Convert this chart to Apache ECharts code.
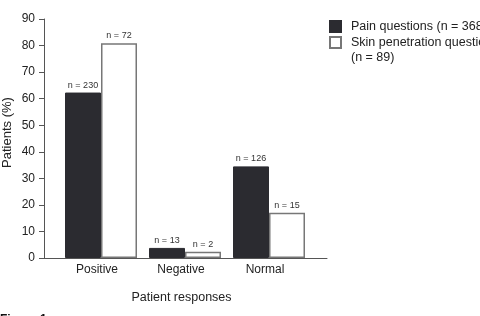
<!DOCTYPE html>
<html><head><meta charset="utf-8">
<script src="https://cdn.jsdelivr.net/npm/echarts@6/dist/echarts.min.js"></script>
<style>html,body{margin:0;padding:0;background:#fff}#c{width:480px;height:316px}</style>
</head><body><div id="c"></div>
<script>
var categories = ['Positive', 'Negative', 'Normal'];
var painValues = [62.3, 3.8, 34.5];
var skinValues = [80.9, 2.4, 17.0];
var painLabels = ['n = 230', 'n = 13', 'n = 126'];
var skinLabels = ['n = 72', 'n = 2', 'n = 15'];
var seriesNames = ['Pain questions (n = 368)', 'Skin penetration questions\n(n = 89)'];
var yTicks = [0, 10, 20, 30, 40, 50, 60, 70, 80, 90];

var font = 'Liberation Sans, Arial, sans-serif';
var chart = echarts.init(document.getElementById('c'));
function lbl(arr) {
  return { show: true, position: 'top', distance: 3, fontSize: 9, color: '#333', fontFamily: font,
    formatter: function (p) { return arr[p.dataIndex]; } };
}
chart.setOption({
  animation: false,
  textStyle: { fontFamily: font },
  grid: [
    { left: 44, right: 153, top: 19, bottom: 58, outerBoundsMode: 'none', containLabel: false },
    { left: 59, right: 169, top: 19, bottom: 58, outerBoundsMode: 'none', containLabel: false }
  ],
  xAxis: [
    { gridIndex: 0, type: 'value', min: 0, max: 1,
      axisLine: { show: true, lineStyle: { color: '#555', width: 1 } },
      axisTick: { show: false }, axisLabel: { show: false }, splitLine: { show: false },
      name: 'Patient responses', nameLocation: 'middle', nameGap: 33, nameMoveOverlap: false,
      nameTextStyle: { fontSize: 12.5, color: '#222', fontFamily: font, padding: [0, 8, 0, 0] } },
    { gridIndex: 1, type: 'category', data: categories,
      axisLine: { show: false }, axisTick: { show: false },
      axisLabel: { fontSize: 12, color: '#222', margin: 6, padding: [0, 8, 0, 0], fontFamily: font } }
  ],
  yAxis: [
    { gridIndex: 0, type: 'value', min: 0, max: 90, interval: 10,
      axisLine: { show: true, lineStyle: { color: '#555', width: 1 } },
      axisTick: { show: true, length: 5, lineStyle: { color: '#555' } },
      axisLabel: { fontSize: 12, color: '#222', margin: 9, fontFamily: font,
        customValues: yTicks },
      splitLine: { show: false },
      name: 'Patients (%)', nameLocation: 'middle', nameGap: 30, nameMoveOverlap: false,
      nameTextStyle: { fontSize: 13, color: '#222', fontFamily: font, padding: [0, 0, 0, 12] } },
    { gridIndex: 1, type: 'value', min: 0, max: 90, interval: 10, show: false }
  ],
  legend: {
    orient: 'vertical', left: 324, top: 14, itemWidth: 11, itemHeight: 11, itemGap: -14,
    icon: 'rect',
    formatter: function (name) { return name.indexOf('\n') >= 0 ? ' \n' + name : name; },
    textStyle: { fontSize: 12.5, color: '#222', fontFamily: font, lineHeight: 15, padding: [0, 0, 0, 5] },
    data: seriesNames
  },
  graphic: [
    { type: 'text', left: 0, top: 314, style: { text: 'Figure 1', font: 'bold 12px ' + font, fill: '#111' } }
  ],
  series: [
    { name: seriesNames[0], type: 'bar', xAxisIndex: 1, yAxisIndex: 1, data: painValues,
      barWidth: 36, barGap: '0%',
      itemStyle: { color: '#2b2b30', borderColor: '#2b2b30', borderWidth: 1 },
      label: lbl(painLabels) },
    { name: seriesNames[1], type: 'bar', xAxisIndex: 1, yAxisIndex: 1, data: skinValues,
      barWidth: 36, barGap: '0%',
      itemStyle: { color: '#fff', borderColor: '#777', borderWidth: 1.5 },
      label: lbl(skinLabels) }
  ]
});
</script></body></html>
